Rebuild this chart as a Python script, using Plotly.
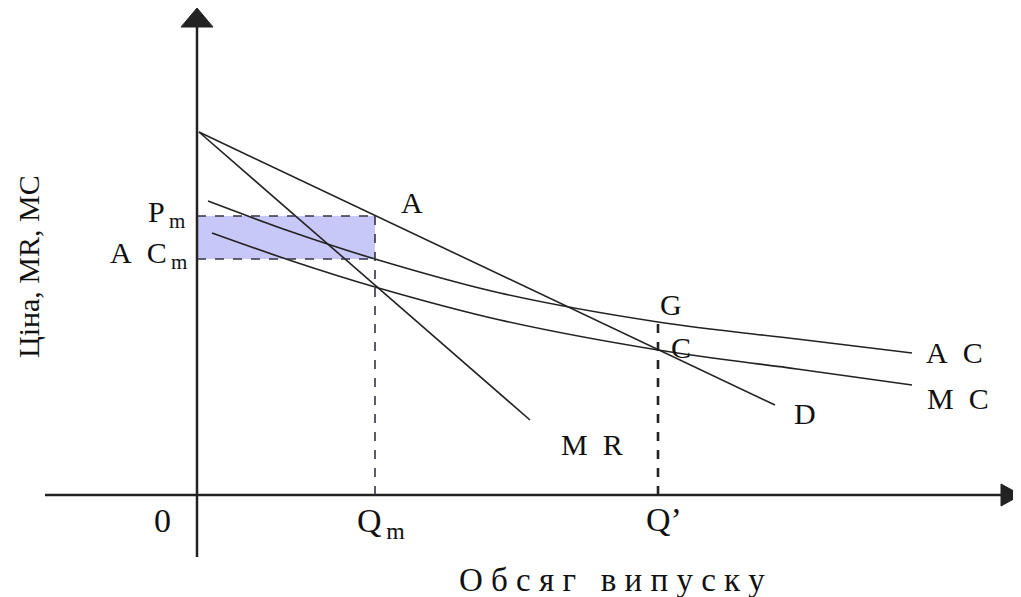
import plotly.graph_objects as go

# curve data (quantity, price units)
d_x = [2, 578]
d_y = [363, 90]
mr_x = [2, 333]
mr_y = [363, 75]
ac_x = [11, 95, 178, 303, 461, 600, 715]
ac_y = [294, 263, 236, 202, 173, 156, 142]
mc_x = [15, 95, 178, 303, 461, 600, 715]
mc_y = [262, 234, 208, 175, 145, 126, 110]

q_m = 178
q_c = 461
p_m = 279
ac_m = 236
g_y = 173

LINE = "#222222"
TXT = "#111111"
FONT = "Liberation Serif"

fig = go.Figure()

# monopoly profit rectangle
fig.add_shape(type="rect", x0=0, x1=q_m, y0=ac_m, y1=p_m, fillcolor="#C8C8F8",
              line=dict(width=0), layer="below")

# axes with arrowheads
fig.add_shape(type="line", x0=-152, x1=806, y0=0, y1=0, line=dict(color=LINE, width=2.5))
fig.add_shape(type="line", x0=0, x1=0, y0=-62, y1=470, line=dict(color=LINE, width=2.5))
fig.add_shape(type="path", path="M 804,11 L 824,0 L 804,-11 Z",
              fillcolor=LINE, line=dict(color=LINE, width=1))
fig.add_shape(type="path", path="M -16,468 L 0,487 L 16,468 Z",
              fillcolor=LINE, line=dict(color=LINE, width=1))

# dashed guides
dash = dict(color="#333344", width=1.6, dash="dash")
fig.add_shape(type="line", x0=0, x1=q_m, y0=p_m, y1=p_m, line=dash)
fig.add_shape(type="line", x0=0, x1=q_m, y0=ac_m, y1=ac_m, line=dash)
fig.add_shape(type="line", x0=q_m, x1=q_m, y0=0, y1=p_m, line=dash)
fig.add_shape(type="line", x0=q_c, x1=q_c, y0=0, y1=g_y,
              line=dict(color=LINE, width=2.6, dash="dash"))

# curves
for xs, ys, shape in [(d_x, d_y, "linear"), (mr_x, mr_y, "linear"),
                      (ac_x, ac_y, "spline"), (mc_x, mc_y, "spline")]:
    fig.add_trace(go.Scatter(x=xs, y=ys, mode="lines", hoverinfo="skip", showlegend=False,
                             line=dict(color=LINE, width=1.6, shape=shape)))

labels = [
    ("A", 215, 293, "center", 30),
    ("G", 474, 191, "center", 30),
    ("C", 484, 148, "center", 30),
    ("A\u2002C", 757, 143, "center", 30),
    ("M\u2002C", 761, 97, "center", 30),
    ("D", 608, 82, "center", 30),
    ("M\u2002R", 395, 51, "center", 30),
    ("P<sub>\u2009m</sub>", -10, 281, "right", 30),
    ("A\u2002C<sub>\u2009m</sub>", -8, 240, "right", 30),
    ("0", -35, -25, "center", 34),
    ("Q<sub>\u2009m</sub>", 184, -28, "center", 34),
    ("Q’", 467, -24, "center", 34),
]
for text, x, y, anchor, size in labels:
    fig.add_annotation(x=x, y=y, text=text, showarrow=False, xanchor=anchor,
                       font=dict(family=FONT, size=size, color=TXT))

fig.add_annotation(x=415, y=-85, text="О б с я г   в и п у с к у", showarrow=False,
                   font=dict(family=FONT, size=33, color=TXT))
fig.add_annotation(x=-169, y=228, text="Ціна, MR, MC", showarrow=False, textangle=-90,
                   font=dict(family=FONT, size=30, color=TXT))

fig.update_layout(
    width=1021,
    height=597,
    margin=dict(l=0, r=0, t=0, b=0),
    plot_bgcolor="white",
    paper_bgcolor="white",
    xaxis=dict(range=[-189, 832], visible=False, fixedrange=True),
    yaxis=dict(range=[-110, 487], visible=False, fixedrange=True),
)

fig.write_html("out.html")
